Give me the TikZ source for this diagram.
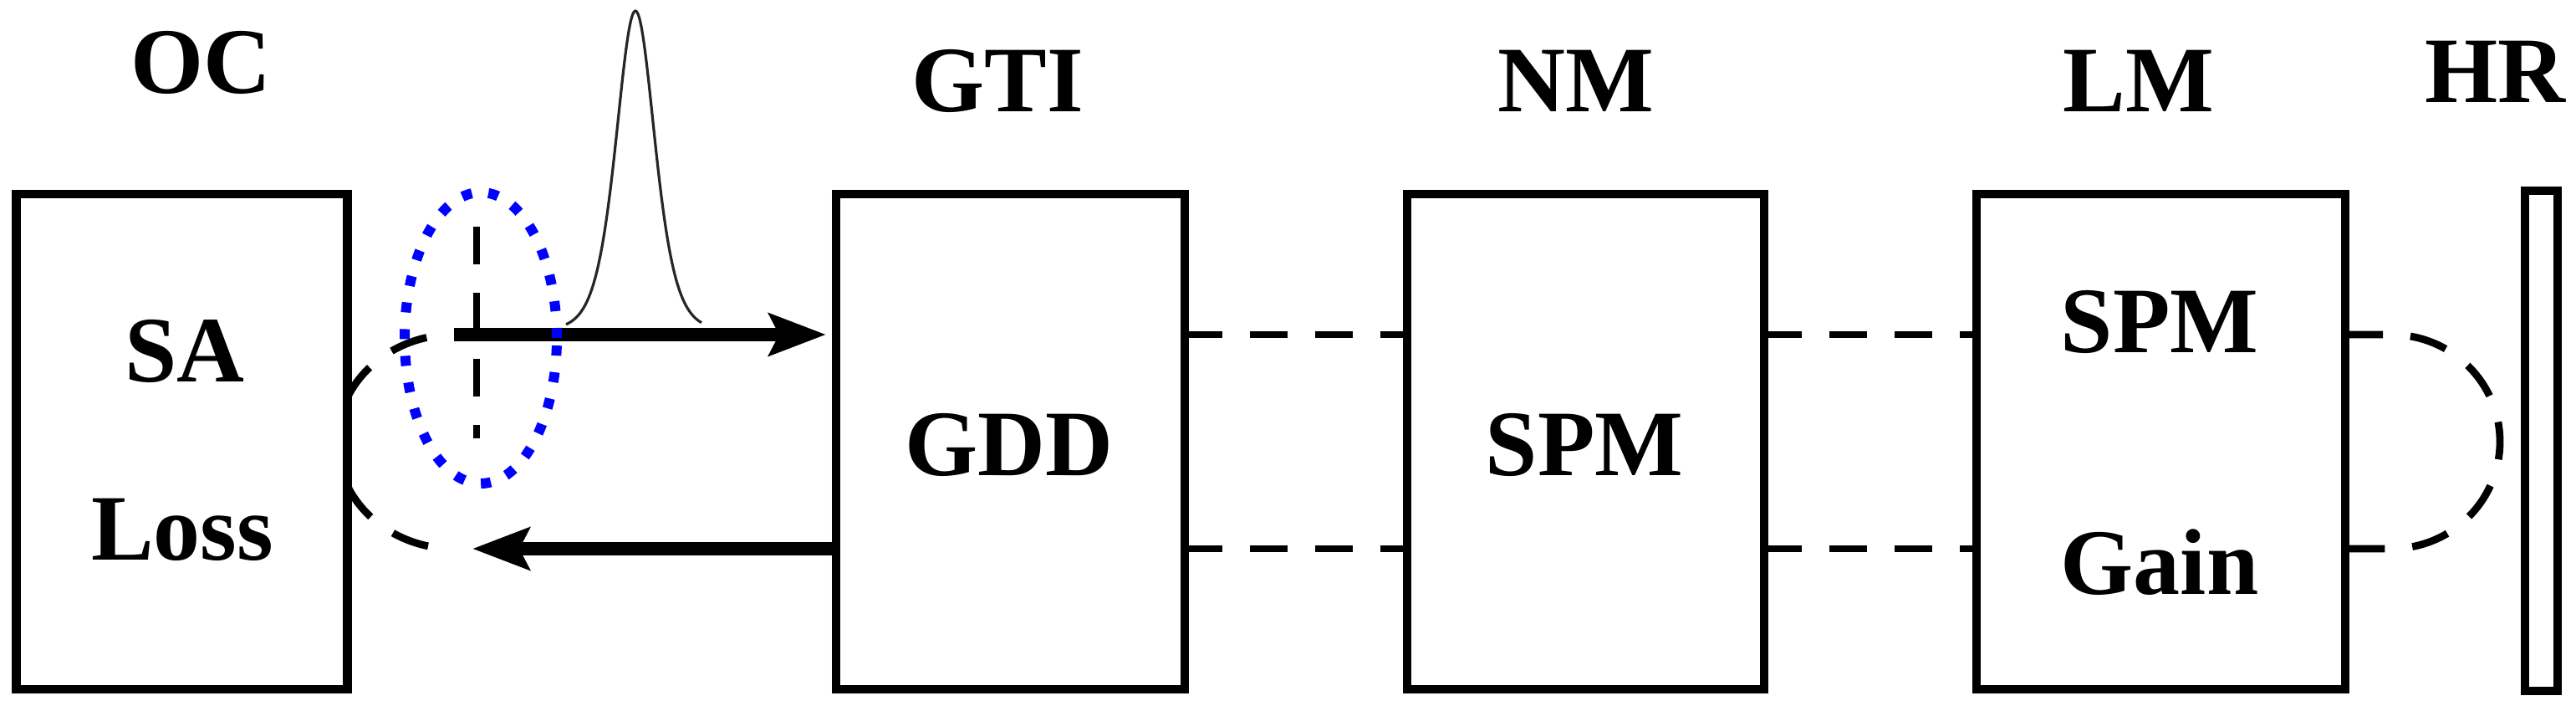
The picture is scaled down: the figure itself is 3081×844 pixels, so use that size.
\documentclass[tikz,border=0pt]{standalone}
\usepackage{fontspec}
\setmainfont{Liberation Serif}
\usetikzlibrary{arrows.meta,backgrounds}
\begin{document}
\begin{tikzpicture}[x=0.25pt,y=-0.25pt,
  box/.style={draw, line width=2.7pt, fill=white, minimum height=148pt, inner sep=0pt, outer sep=0pt},
  lbl/.style={anchor=base, inner sep=0pt, font=\fontsize{28}{34}\selectfont\bfseries},
  dsh/.style={line width=2.2pt, dash pattern=on 11.25pt off 8.25pt},
  beam/.style={line width=4pt, -{Stealth[length=17pt,width=12.5pt,inset=3pt]}},
  dotring/.style={draw=blue, line width=3pt, dash pattern=on 3pt off 5pt},
  pulse/.style={line width=0.8pt, black!85},
]
\useasboundingbox (0,0) rectangle (3081,844);
% named points
\coordinate (u0) at (543,400);
\coordinate (l0) at (543,656);
\coordinate (lt) at (565,656);
\coordinate (ra) at (2860,400);
\coordinate (vt) at (570,271);
\coordinate (vb) at (570,524);
\coordinate (ec) at (575,404);
% boxes
\node[box, minimum width=99pt]  (oc)  at (217.5,528)    {};
\node[box, minimum width=104.25pt] (gdd) at (1208.5,528) {};
\node[box, minimum width=106.75pt] (nm)  at (1896.5,528) {};
\node[box, minimum width=110.25pt] (lm)  at (2584.5,528) {};
\node[box, minimum width=9.75pt, minimum height=149.5pt] (hr) at (3039.5,527) {};
% labels
\node[lbl] (toc)  at (240,112)  {OC};
\node[lbl] (tgti) at (1193,134) {GTI};
\node[lbl] (tnm)  at (1885,134) {NM};
\node[lbl] (tlm)  at (2558,134) {LM};
\node[lbl] (thr)  at (2984,123) {HR};
\node[lbl] (tsa)  at (221,456)  {SA};
\node[lbl] (tloss) at (218,669) {Loss};
\node[lbl] (tgdd) at (1207,569) {GDD};
\node[lbl] (tspm1) at (1895,569) {SPM};
\node[lbl] (tspm2) at (2583,422) {SPM};
\node[lbl] (tgain) at (2583,710) {Gain};
% dashed connectors
\begin{scope}[on background layer]
\draw[dsh, dash phase=11.25pt] (u0) arc[start angle=90, end angle=270, x radius=35pt, y radius=32pt];
\draw[dsh] (lm.east |- u0) -- (ra) arc[start angle=90, end angle=-90, x radius=32.5pt, y radius=32pt] -- (lm.east |- l0);
\end{scope}
\draw[dsh] (gdd.east |- u0) -- (nm.west |- u0);
\draw[dsh] (gdd.east |- l0) -- (nm.west |- l0);
\draw[dsh] (nm.east |- u0) -- (lm.west |- u0);
\draw[dsh] (nm.east |- l0) -- (lm.west |- l0);
% pulse
\draw[pulse] plot[domain=677:839, samples=161, smooth] (\x, {395-1528/(exp((\x-760)/31)+exp((760-\x)/31))^2});
% beams
\draw[beam, shorten >=3pt] (u0) -- (gdd.west |- u0);
\draw[beam] (gdd.west |- lt) -- (lt);
% reference plane
\draw[line width=2pt, dash pattern=on 11.25pt off 8.5pt] (vt) -- (vb);
\draw[dotring] (ec) ellipse [x radius=22.75pt, y radius=43.5pt];
\end{tikzpicture}
\end{document}
